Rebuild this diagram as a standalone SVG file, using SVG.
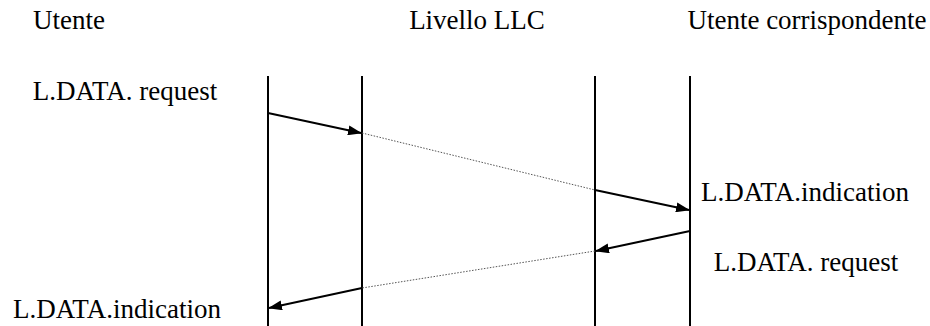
<svg xmlns="http://www.w3.org/2000/svg" width="930" height="326" viewBox="0 0 930 326">
<style>
text{font-size:27px;fill:#000}
.life{stroke:#000;stroke-width:2;fill:none}
.arr{stroke:#000;stroke-width:2;fill:none}
.dot{stroke:#555;stroke-width:1;stroke-dasharray:1.5,1.5;fill:none}
</style>
<defs>
<marker id="ah" markerWidth="14" markerHeight="10" refX="13" refY="5" orient="auto" markerUnits="userSpaceOnUse">
<path d="M0,0 L14,5 L0,10 Z" fill="#000"/>
</marker>
</defs>
<rect width="930" height="326" fill="#fff"/>
<g id="header-utente"><text x="69" y="29" text-anchor="middle" font-family="Liberation Serif, serif">Utente</text></g>
<g id="header-llc"><text x="477" y="29" text-anchor="middle" font-family="Liberation Serif, serif">Livello LLC</text></g>
<g id="header-corr"><text x="807" y="29" text-anchor="middle" font-family="Liberation Serif, serif">Utente corrispondente</text></g>
<g id="label-req1"><text x="125" y="100" text-anchor="middle" font-family="Liberation Serif, serif">L.DATA. request</text></g>
<g id="label-ind1"><text x="805" y="201" text-anchor="middle" font-family="Liberation Serif, serif">L.DATA.indication</text></g>
<g id="label-req2"><text x="806" y="271" text-anchor="middle" font-family="Liberation Serif, serif">L.DATA. request</text></g>
<g id="label-ind2"><text x="117" y="318" text-anchor="middle" font-family="Liberation Serif, serif">L.DATA.indication</text></g>
<g id="lifelines">
<line class="life" x1="268" y1="76" x2="268" y2="326"/>
<line class="life" x1="362" y1="76" x2="362" y2="326"/>
<line class="life" x1="595" y1="76" x2="595" y2="326"/>
<line class="life" x1="690" y1="76" x2="690" y2="326"/>
</g>
<g id="connectors">
<line class="arr" x1="268" y1="113" x2="361" y2="133" marker-end="url(#ah)"/>
<line class="dot" x1="362" y1="133" x2="595" y2="190"/>
<line class="arr" x1="595" y1="190" x2="689" y2="210" marker-end="url(#ah)"/>
<line class="arr" x1="690" y1="231" x2="596" y2="251" marker-end="url(#ah)"/>
<line class="dot" x1="595" y1="251" x2="362" y2="288"/>
<line class="arr" x1="362" y1="288" x2="269" y2="308" marker-end="url(#ah)"/>
</g>
</svg>
